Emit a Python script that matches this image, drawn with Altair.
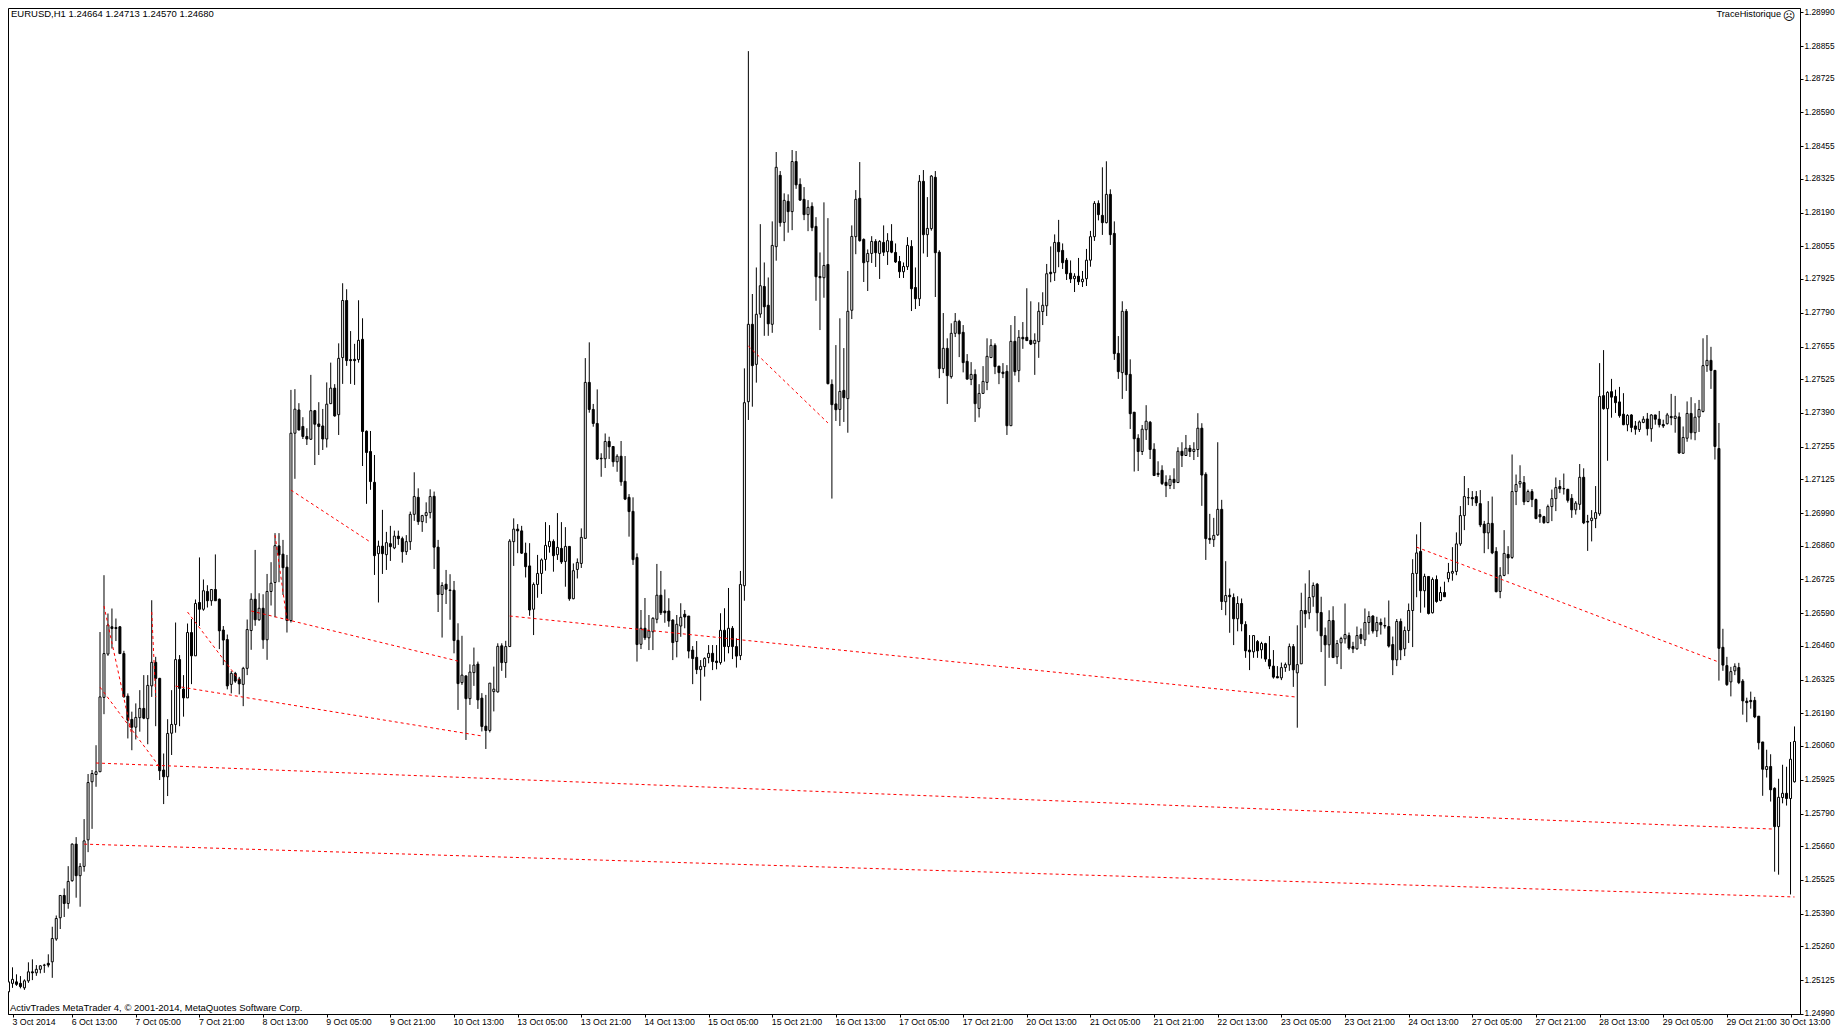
import altair as alt
import pandas as pd

# All candle values are in 1/100000 above 1.2 (5118 means 1.25118)
highs = [
5118,5176,5148,5141,5128,5196,5208,5185,5185,5190,
5228,5338,5383,5463,5491,5580,5671,5696,5592,5768,
5948,5964,6063,6515,6742,6589,6609,6569,6539,6440,
6270,6197,6230,6283,6343,6343,6642,6416,6332,6030,
6167,6283,6553,6423,6343,6549,6567,6645,6813,6725,
6702,6685,6825,6649,6539,6505,6359,6356,6336,6376,
6565,6670,6843,6670,6666,6747,6794,6910,6910,6883,
6823,7482,7485,7429,7373,7329,7542,7402,7433,7406,
7512,7591,7505,7668,7908,7884,7717,7666,7840,7768,
7320,7318,7222,6880,7003,6915,6939,6920,6920,6896,
6902,6996,7153,7089,6983,7033,7085,7076,6883,6714,
6763,6746,6719,6550,6500,6340,6386,6453,6397,6271,
6264,6311,6377,6470,6470,6480,6886,6969,6946,6939,
6872,6870,6713,6823,6809,6954,6942,6885,6990,6954,
6934,6857,6789,6809,6929,7609,7672,7426,7484,7229,
7308,7295,7256,7225,7278,7218,7066,7053,6829,6603,
6651,6583,6574,6787,6759,6685,6650,6566,6583,6630,
6603,6579,6459,6479,6403,6414,6463,6463,6463,6590,
6610,6691,6539,6490,6759,7568,8835,7865,7971,8144,
7991,7931,8155,8432,8356,8267,8263,8440,8436,8327,
8292,8240,8231,8172,8031,8231,8168,7524,7661,7768,
7649,7957,8139,8280,8392,8087,8043,8096,8084,8080,
8139,8108,8144,8067,8017,7991,8092,8080,7971,8340,
8360,8252,8340,8356,8040,7789,7688,7748,7789,7762,
7741,7625,7593,7564,7505,7577,7688,7685,7668,7577,
7589,7581,7741,7777,7721,7753,7888,7836,7708,7832,
7872,7985,8055,8103,8161,8067,8009,7999,7948,8009,
7957,8045,8117,8236,8239,8371,8395,8283,8155,7697,
7836,7805,7604,7393,7305,7342,7421,7358,7269,7197,
7181,7141,7141,7169,7253,7273,7302,7262,7273,7389,
7349,7153,6987,6971,7273,7043,6798,6689,6669,6658,
6649,6558,6503,6501,6483,6476,6472,6499,6443,6379,
6393,6393,6469,6467,6542,6672,6709,6762,6713,6711,
6656,6533,6602,6618,6483,6496,6629,6513,6476,6537,
6529,6609,6598,6582,6576,6569,6573,6641,6497,6567,
6569,6537,6629,6806,6905,6954,6748,6737,6733,6741,
6696,6716,6791,6854,6913,7018,7138,7090,7078,7078,
7082,6959,7038,7056,6854,6774,6922,6858,7224,7144,
7181,7138,7084,7086,7048,7006,6979,7024,7084,7132,
7122,7148,7087,7066,7038,7186,7169,6983,7002,7098,
7589,7641,7477,7526,7483,7494,7469,7385,7385,7358,
7360,7377,7390,7385,7382,7398,7363,7390,7466,7458,
7392,7336,7436,7453,7429,7442,7688,7701,7654,7560,
7350,6528,6416,6376,6390,6392,6327,6253,6277,6256,
6179,6076,6045,6027,5895,5929,5985,5977,6076,6138]

lows = [
5078,5094,5102,5092,5086,5114,5125,5142,5152,5154,
5176,5134,5282,5329,5377,5410,5518,5454,5418,5558,
5636,5729,5897,5957,6187,6420,6449,6479,6427,6254,
6090,6043,6086,6117,6167,6067,6256,6139,5924,5828,
5860,6024,6113,6139,6177,6252,6307,6420,6539,6600,
6613,6620,6640,6447,6383,6286,6270,6312,6266,6219,
6343,6444,6540,6560,6448,6404,6621,6574,6714,6663,
6513,6553,7127,7320,7286,7262,7282,7182,7222,7242,
7252,7427,7375,7302,7506,7578,7506,7502,7591,7178,
7027,7083,6743,6633,6747,6763,6799,6846,6863,6792,
6823,6843,6959,6943,6915,6950,6969,6767,6595,6493,
6627,6564,6430,6204,6304,6084,6224,6300,6208,6118,
6048,6114,6198,6273,6360,6332,6457,6779,6830,6827,
6733,6580,6503,6652,6667,6760,6832,6756,6803,6787,
6696,6640,6646,6729,6771,6889,7391,7335,7202,7135,
7170,7206,7175,7155,7099,7042,6896,6783,6397,6447,
6483,6443,6443,6550,6583,6552,6536,6403,6414,6496,
6530,6410,6307,6347,6241,6337,6390,6363,6366,6385,
6397,6430,6407,6373,6403,6640,7362,7415,7511,7770,
7698,7698,7710,7998,8134,8076,8110,8120,8285,8237,
8160,8116,8116,7838,7721,7850,7504,7048,7358,7338,
7354,7311,7765,8024,8074,7913,7877,7989,7973,7925,
8017,7981,8028,7989,7929,7929,7961,7797,7805,7817,
8027,8013,8118,7853,7529,7549,7426,7527,7693,7613,
7552,7524,7501,7354,7372,7466,7481,7611,7545,7505,
7529,7302,7339,7539,7513,7646,7677,7661,7542,7610,
7741,7777,7912,7917,7972,7965,7921,7909,7873,7901,
7893,7897,7974,8077,8159,8101,8147,8061,7602,7526,
7446,7478,7326,7156,7158,7222,7282,7206,7138,7134,
7102,7054,7086,7086,7112,7174,7220,7214,7202,7214,
7019,6803,6867,6855,6899,6603,6582,6512,6463,6518,
6518,6412,6363,6412,6412,6409,6396,6367,6329,6331,
6323,6356,6360,6296,6133,6388,6532,6566,6616,6518,
6435,6300,6412,6412,6387,6367,6469,6444,6431,6444,
6467,6459,6505,6509,6495,6505,6529,6453,6343,6379,
6403,6419,6471,6455,6654,6592,6613,6585,6589,6632,
6638,6656,6714,6720,6742,6859,6922,7022,7019,7018,
6934,6830,6846,6826,6674,6650,6738,6746,6807,7022,
7091,7022,7034,7014,6966,6951,6947,6950,6958,6998,
7070,7064,7032,6971,6984,7003,6946,6839,6877,6930,
6979,7403,7199,7371,7390,7371,7341,7317,7313,7303,
7314,7349,7300,7275,7343,7332,7330,7344,7341,7311,
7227,7227,7275,7284,7281,7314,7392,7554,7486,7204,
6321,6360,6300,6258,6343,6307,6185,6155,6209,6171,
6046,5861,5934,5838,5558,5546,5831,5822,5467,5914]

body_tops = [
5118,5128,5118,5112,5122,5158,5158,5168,5182,5185,
5192,5291,5371,5463,5463,5519,5668,5668,5579,5681,
5914,5950,5957,6256,6429,6543,6536,6533,6536,6429,
6259,6166,6174,6210,6210,6302,6394,6394,6330,5964,
6110,6146,6405,6405,6287,6513,6513,6629,6633,6680,
6677,6685,6685,6646,6523,6485,6350,6350,6327,6370,
6525,6646,6646,6610,6610,6677,6710,6860,6859,6826,
6774,7309,7405,7402,7336,7296,7399,7399,7346,7338,
7425,7489,7489,7608,7839,7839,7603,7604,7680,7684,
7317,7236,7113,6858,6858,6872,6868,6898,6898,6888,
6876,6985,7056,7053,6980,6992,7056,7057,6854,6701,
6706,6683,6682,6482,6343,6340,6355,6383,6387,6251,
6139,6311,6287,6458,6460,6457,6878,6926,6926,6919,
6830,6779,6705,6749,6803,6861,6877,6877,6853,6849,
6857,6857,6760,6793,6893,7512,7512,7404,7348,7209,
7276,7276,7256,7217,7217,7117,7053,6997,6813,6530,
6530,6519,6570,6662,6662,6599,6599,6563,6546,6574,
6586,6579,6443,6414,6378,6410,6430,6430,6399,6522,
6522,6530,6530,6457,6705,7431,7744,7744,7784,7898,
7895,7820,8059,8371,8339,8239,8235,8394,8394,8303,
8243,8211,8215,8135,7935,7979,7983,7504,7426,7476,
7480,7796,8095,8243,8247,8083,8027,8075,8075,8075,
8071,8078,8076,8031,7995,7975,8059,8055,7891,8315,
8315,8127,8336,8331,8032,7648,7648,7708,7756,7756,
7712,7596,7544,7544,7468,7516,7616,7660,7660,7577,
7553,7556,7676,7676,7692,7692,7692,7680,7680,7796,
7820,7946,7952,8071,8071,8039,8000,7948,7936,7936,
7924,8000,8094,8227,8227,8179,8263,8263,8107,7628,
7796,7796,7544,7393,7289,7325,7357,7353,7245,7149,
7161,7113,7125,7125,7237,7237,7249,7249,7245,7329,
7329,7145,6889,6901,7005,7005,6661,6662,6653,6629,
6629,6545,6443,6501,6477,6469,6469,6405,6379,6337,
6373,6385,6457,6457,6385,6601,6601,6653,6701,6706,
6593,6501,6561,6561,6469,6489,6505,6501,6457,6501,
6505,6553,6577,6579,6553,6553,6541,6537,6465,6557,
6557,6521,6601,6749,6831,6837,6737,6737,6725,6725,
6673,6673,6753,6757,6867,6980,7056,7052,7052,7056,
7028,6946,6949,6949,6837,6740,6829,6825,7076,7104,
7116,7112,7076,7076,7044,6984,6976,7016,7048,7092,
7096,7088,7085,7049,7030,7133,7133,6957,6970,6992,
7456,7459,7472,7475,7456,7434,7385,7380,7382,7338,
7354,7365,7366,7382,7382,7365,7344,7382,7376,7377,
7374,7292,7388,7388,7373,7404,7579,7600,7600,7560,
7248,6454,6381,6357,6378,6373,6319,6239,6242,6242,
6179,6076,5978,5978,5891,5855,5871,5871,6007,6078]

body_bottoms = [
5078,5112,5108,5099,5094,5122,5154,5154,5168,5184,
5185,5198,5289,5374,5431,5431,5522,5542,5542,5579,
5685,5917,5946,5957,6254,6427,6529,6529,6429,6256,
6163,6135,6135,6173,6171,6169,6300,6330,5961,5937,
5937,6111,6146,6290,6252,6252,6420,6420,6606,6606,
6640,6640,6640,6520,6483,6300,6306,6319,6308,6306,
6370,6521,6564,6564,6484,6484,6677,6713,6823,6772,
6561,6561,7309,7322,7296,7286,7285,7345,7336,7286,
7286,7427,7378,7383,7611,7599,7599,7599,7603,7316,
7232,7116,6820,6828,6828,6824,6856,6851,6888,6836,
6836,6876,6985,6956,6956,6980,6992,6854,6665,6665,
6686,6681,6481,6309,6313,6249,6249,6353,6244,6138,
6122,6122,6277,6276,6393,6393,6457,6876,6919,6830,
6776,6603,6606,6705,6749,6805,6856,6820,6824,6795,
6797,6648,6648,6765,6789,6889,7404,7348,7206,7207,
7207,7255,7195,7195,7115,7046,6996,6804,6465,6466,
6492,6492,6516,6566,6592,6592,6559,6473,6477,6539,
6575,6439,6409,6365,6365,6377,6413,6397,6393,6393,
6457,6457,6457,6419,6421,6700,7435,7579,7584,7785,
7814,7746,7744,8054,8150,8151,8194,8194,8301,8240,
8182,8182,8130,7934,7930,7930,7507,7423,7403,7404,
7451,7447,7800,8094,8078,7990,7994,8027,8030,8027,
8032,8034,8032,7993,7954,7954,7974,7886,7846,7846,
8102,8102,8126,8030,7567,7567,7539,7535,7708,7706,
7591,7525,7524,7427,7408,7468,7512,7611,7575,7551,
7547,7339,7339,7555,7559,7686,7679,7665,7667,7675,
7795,7818,7946,7950,8034,7990,7946,7925,7926,7914,
7914,7926,8000,8094,8182,8150,8150,8102,7627,7555,
7551,7543,7387,7287,7236,7236,7323,7244,7140,7144,
7108,7100,7100,7112,7112,7220,7220,7236,7236,7244,
7142,6888,6884,6884,6903,6637,6636,6656,6568,6568,
6548,6440,6436,6436,6440,6444,6407,6379,6335,6332,
6332,6373,6384,6364,6352,6388,6588,6592,6656,6592,
6500,6464,6464,6413,6416,6472,6488,6451,6448,6448,
6488,6484,6553,6519,6520,6544,6539,6459,6404,6404,
6444,6448,6521,6601,6749,6680,6680,6589,6592,6637,
6641,6656,6728,6750,6757,6867,6980,7051,7047,7031,
6943,6911,6911,6831,6676,6677,6741,6811,6813,7076,
7107,7035,7036,7044,6968,6975,6952,6952,7016,7048,
7087,7087,7041,7003,7003,7025,6951,6954,6960,6968,
6987,7407,7407,7453,7431,7379,7343,7343,7332,7325,
7324,7352,7327,7327,7365,7343,7338,7347,7371,7368,
7230,7229,7289,7311,7311,7374,7396,7579,7560,7256,
6450,6383,6305,6316,6360,6313,6240,6233,6237,6176,
6073,5967,5966,5885,5738,5738,5854,5850,5850,5917]

# w = close above open (white body), b = close below open (black body)
directions = (
"wwbbwwbwww" "bwwwbwwbww" "wwwwwwbbbb" "bbwwbwwbbb" "wwwbbwbwbw"
"bwbbbbwbbw" "wwbwbwwwbb" "bwwbbbwbbb" "wwbwwbbbwb" "bbbwbwbwbb"
"wwwbwwwbbw" "bbbbwbwwbb" "bwwwbwwwbb" "bbwwwwwbwb" "wbwwwwbbbb"
"wbbwbbbbbw" "bwwwbbbbww" "bbbbwwwbbw" "bwbbwwwbww" "bbwwbwbwbb"
"bwbbbwbbbw" "bwwwbbwwbw" "bwbbbwwbbw" "bwwbbwbwwb" "bbwbwwwwbb"
"bbwbwbbbww" "wwbwbbbbwb" "wwwwbbwbbb" "wbbbbwwbbb" "bbwbwbwbww"
"bbbwwbwbbw" "bbbwbwbbbb" "wwwbwwbwwb" "bbwbwwwbbw" "bwwbwbbbbw"
"bwwwwbwbwb" "wbwwwwwwbb" "bbwbbwwbww" "wbwbbbbwww" "bwbbwwbbww"
"wbwbbbbwbb" "wwbwbbbwbw" "bwwbwwwwbb" "bbbwwbbbbb" "bbwbbwwbww"
)

# Every 16th bar carries a time label; the first sits at the left edge of the frame
time_labels = [
"3 Oct 2014","6 Oct 13:00","7 Oct 05:00","7 Oct 21:00","8 Oct 13:00","9 Oct 05:00",
"9 Oct 21:00","10 Oct 13:00","13 Oct 05:00","13 Oct 21:00","14 Oct 13:00","15 Oct 05:00",
"15 Oct 21:00","16 Oct 13:00","17 Oct 05:00","17 Oct 21:00","20 Oct 13:00","21 Oct 05:00",
"21 Oct 21:00","22 Oct 13:00","23 Oct 05:00","23 Oct 21:00","24 Oct 13:00","27 Oct 05:00",
"27 Oct 21:00","28 Oct 13:00","29 Oct 05:00","29 Oct 21:00","30 Oct 13:00"]

price_ticks = [1.28990,1.28855,1.28725,1.28590,1.28455,1.28325,1.28190,1.28055,1.27925,
1.27790,1.27655,1.27525,1.27390,1.27255,1.27125,1.26990,1.26860,1.26725,1.26590,1.26460,
1.26325,1.26190,1.26060,1.25925,1.25790,1.25660,1.25525,1.25390,1.25260,1.25125,1.24990]

# Red dashed trend segments: start bar, end bar, start price, end price (same units as candles)
seg_start_bar = [22,19,24,23,36,45,42,61,67,71,126,186,354]
seg_end_bar = [444,449,31,38,37,58,119,113,70,91,324,206,430]
seg_start_price = [5992,5668,6619,6295,6595,6595,6299,6599,6902,7082,6579,7657,6854]
seg_end_price = [5728,5457,6104,5976,6255,6323,6100,6399,6563,6874,6255,7350,6395]

header_text = "EURUSD,H1  1.24664 1.24713 1.24570 1.24680"
credit_text = "ActivTrades MetaTrader 4, \u00a9 2001-2014, MetaQuotes Software Corp."
indicator_text = "TraceHistorique"
indicator_icon = "\u2639"

assert len(highs) == len(lows) == len(body_tops) == len(body_bottoms) == len(directions) == 450


def to_price(p):
    return round(1.2 + p / 100000, 5)


candles = pd.DataFrame({
    "bar": range(len(highs)),
    "high": [to_price(v) for v in highs],
    "low": [to_price(v) for v in lows],
    "top": [to_price(v) for v in body_tops],
    "bottom": [to_price(v) for v in body_bottoms],
    "direction": list(directions),
})
segments = pd.DataFrame({
    "a": seg_start_bar,
    "b": seg_end_bar,
    "p": [to_price(v) for v in seg_start_price],
    "q": [to_price(v) for v in seg_end_price],
})

FONT = "Liberation Sans"
x_scale = alt.Scale(domain=[1.125, 449.125], nice=False, zero=False)
y_scale = alt.Scale(domain=[1.249896, 1.290072], nice=False, zero=False)
x_values = [1.125] + [16 * k for k in range(1, len(time_labels))]
label_expr = "[" + ",".join("'" + t + "'" for t in time_labels) + "][round(datum.value/16)]"

x_axis = alt.Axis(
    values=x_values, labelExpr=label_expr, title=None, grid=False, tickSize=3,
    tickColor="black", domainColor="black", labelColor="black", labelFont=FONT,
    labelFontSize=8.8, labelAlign="left", labelPadding=0, labelOverlap=False,
    labelBound=False, labelFlush=False,
    labelOffset={"condition": {"test": "datum.value > 440", "value": -11}, "value": -1})
y_axis = alt.Axis(
    orient="right", values=price_ticks, format=".5f", title=None, grid=False, tickSize=3,
    tickColor="black", domainColor="black", labelColor="black", labelFont=FONT,
    labelFontSize=8.3, labelPadding=1, labelOverlap=False, labelBound=False, labelFlush=False)

wicks = alt.Chart(candles).mark_rule(color="black", strokeWidth=1, clip=True).encode(
    x=alt.X("bar:Q", scale=x_scale, axis=x_axis),
    y=alt.Y("low:Q", scale=y_scale, axis=y_axis),
    y2="high:Q",
)

bodies = alt.Chart(candles).mark_bar(
    orient="vertical", size=2, stroke="black", strokeWidth=1, clip=True
).encode(
    x=alt.X("bar:Q", scale=x_scale, axis=x_axis),
    y=alt.Y("bottom:Q", scale=y_scale, axis=y_axis),
    y2="top:Q",
    fill=alt.Fill("direction:N", scale=alt.Scale(domain=["w", "b"], range=["white", "black"]), legend=None),
)

trends = alt.Chart(segments).mark_rule(
    color="#ff0000", strokeWidth=1, strokeDash=[3, 3], clip=True
).encode(
    x=alt.X("a:Q", scale=x_scale, axis=x_axis),
    x2="b:Q",
    y=alt.Y("p:Q", scale=y_scale, axis=y_axis),
    y2="q:Q",
)


def caption(text, px, py, align="left", size=9.5, font=FONT):
    return alt.Chart(pd.DataFrame({"t": [text]})).mark_text(
        align=align, baseline="middle", font=font, fontSize=size, color="black"
    ).encode(text="t:N", x=alt.value(px), y=alt.value(py))


chart = alt.layer(
    wicks,
    bodies,
    trends,
    caption(header_text, 3, 5.5),
    caption(credit_text, 2, 1000),
    caption(indicator_text, 1773, 6, align="right", size=9.2),
    caption(indicator_icon, 1781, 8, align="center", size=12, font="DejaVu Sans"),
).properties(
    width=1792,
    height=1006,
    autosize=alt.AutoSizeParams(type="none"),
    padding={"left": 0, "top": 0, "right": 35, "bottom": 12},
    background="white",
).configure_view(stroke="black", strokeWidth=1)

chart.save("out.html", embed_options={"renderer": "svg", "actions": False})
